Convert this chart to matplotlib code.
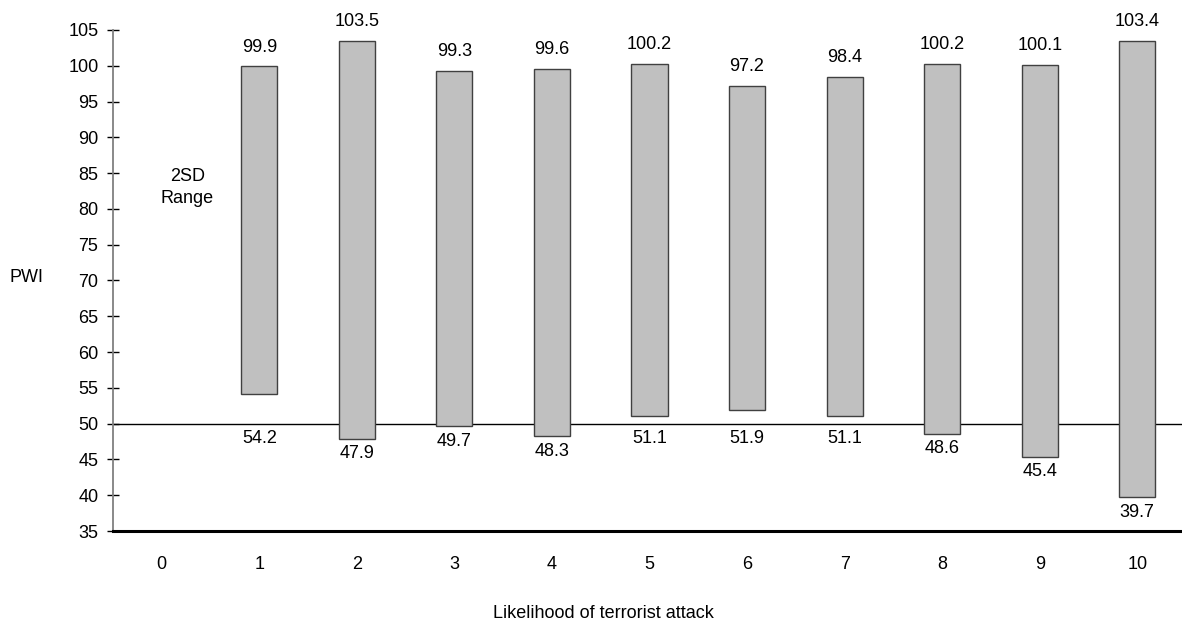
import matplotlib
matplotlib.use('Agg')
import matplotlib.pyplot as plt

plt.rcParams['font.family'] = ['Liberation Sans', 'DejaVu Sans']

categories = [0, 1, 2, 3, 4, 5, 6, 7, 8, 9, 10]
# 2SD range of PWI per likelihood level (level 0 has no data)
low = [None, 54.2, 47.9, 49.7, 48.3, 51.1, 51.9, 51.1, 48.6, 45.4, 39.7]
high = [None, 99.9, 103.5, 99.3, 99.6, 100.2, 97.2, 98.4, 100.2, 100.1, 103.4]
yticks = list(range(35, 106, 5))

fig = plt.figure(figsize=(11.82, 6.24), dpi=100)
ax = fig.add_axes([0.0956, 0.149, 0.9078, 0.803])

xs = [c for c, lo in zip(categories, low) if lo is not None]
lows = [lo for lo in low if lo is not None]
highs = [hi for hi in high if hi is not None]
heights = [hi - lo for lo, hi in zip(lows, highs)]

ax.axhline(50, color='black', lw=1.0, zorder=1)
ax.bar(xs, heights, bottom=lows, width=0.37, color='#c0c0c0',
       edgecolor='#404040', linewidth=1.0, zorder=2)

for x, lo, hi in zip(xs, lows, highs):
    ax.annotate(f'{hi:.1f}', (x, hi), xytext=(0, 14), textcoords='offset points',
                ha='center', va='center', fontsize=13)
    ax.annotate(f'{lo:.1f}', (x, min(lo, 50)), xytext=(0, -11), textcoords='offset points',
                ha='center', va='center', fontsize=13)

ax.text(0.26, 83, '2SD\nRange', ha='center', va='center', fontsize=13, linespacing=1.45)

ax.set_xlim(-0.5, 10.5)
ax.set_ylim(35, 105)
ax.set_xticks(categories)
ax.set_yticks(yticks)
ax.tick_params(axis='x', length=0, pad=18, labelsize=13)
ax.tick_params(axis='y', direction='inout', length=9, width=1, pad=6, labelsize=13)

for side in ['top', 'right']:
    ax.spines[side].set_visible(False)
ax.spines['left'].set_color('#808080')
ax.spines['left'].set_linewidth(1.3)
ax.spines['bottom'].set_color('black')
ax.spines['bottom'].set_linewidth(2.2)

ax.set_ylabel('PWI', rotation=0, fontsize=13, va='center', ha='center')
ax.yaxis.set_label_coords(-0.081, 0.505)
ax.set_xlabel('Likelihood of terrorist attack', fontsize=13, va='top')
ax.xaxis.set_label_coords(0.457, -0.148)

fig.savefig('out.png', dpi=100)
